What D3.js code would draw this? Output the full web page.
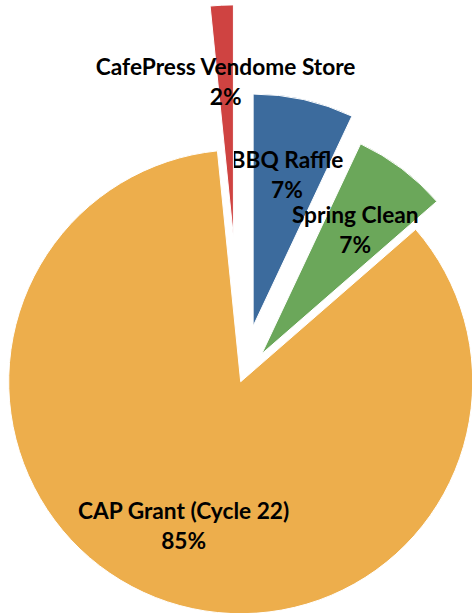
<!DOCTYPE html>
<html>
<head>
<meta charset="utf-8">
<script src="https://cdn.jsdelivr.net/npm/d3@7"></script>
<style>
  html, body { margin: 0; padding: 0; background: #fff; }
  svg { display: block; }
  text { font-family: Lato, "Open Sans", sans-serif; font-weight: 700; fill: #000; }
</style>
</head>
<body>
<svg id="chart" width="472" height="613"></svg>
<script>
const categories = ["BBQ Raffle", "Spring Clean", "CAP Grant (Cycle 22)", "CafePress Vendome Store"];
const values = [7.0, 6.6, 84.8, 1.6];
const colors = ["#3c6b9d", "#6ba75a", "#edae4c", "#cf4341"];
const explode = [57, 35, 0, 145];

const width = 472, height = 613;
const cx = 240.7, cy = 381.7, radius = 232, labelR = 155;

const svg = d3.select("#chart");
const total = d3.sum(values);
const data = categories.map((c, i) => ({ name: c, value: values[i], color: colors[i], explode: explode[i] }));

const pie = d3.pie().sort(null).value(d => d.value).startAngle(0).endAngle(2 * Math.PI);
const arc = d3.arc().innerRadius(0).outerRadius(radius);
const arcs = pie(data);

const g = svg.append("g").attr("transform", `translate(${cx},${cy})`);

const slices = g.selectAll("g.slice").data(arcs).join("g")
  .attr("class", "slice")
  .attr("transform", d => {
    const mid = (d.startAngle + d.endAngle) / 2;
    return `translate(${Math.sin(mid) * d.data.explode},${-Math.cos(mid) * d.data.explode})`;
  });

slices.append("path")
  .attr("d", arc)
  .attr("fill", d => d.data.color)
  .attr("stroke", "#fff")
  .attr("stroke-width", 1);

slices.each(function(d) {
  const mid = (d.startAngle + d.endAngle) / 2;
  const x = Math.sin(mid) * labelR, y = -Math.cos(mid) * labelR;
  const t = d3.select(this).append("text")
    .attr("text-anchor", "middle")
    .attr("font-size", 22.7);
  t.append("tspan").attr("x", x).attr("y", y - 7).text(d.data.name);
  t.append("tspan").attr("x", x).attr("y", y + 23).text(Math.round(d.data.value / total * 100) + "%");
});
</script>
</body>
</html>
